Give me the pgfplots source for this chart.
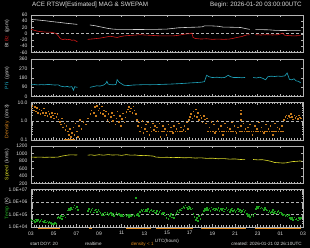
\documentclass[border=0pt]{standalone}
\usepackage{pgfplots}
\pgfplotsset{compat=1.18}
\usepackage{fontspec}
\setmainfont{Liberation Sans}
\definecolor{framegray}{HTML}{B4B4B4}
\definecolor{labelgray}{HTML}{DCDCDC}
\definecolor{btcol}{HTML}{D0D0D0}
\definecolor{bzcol}{HTML}{D01818}
\definecolor{phicol}{HTML}{1FA6BE}
\definecolor{dencol}{HTML}{E08A1E}
\definecolor{denpt}{HTML}{C87A1A}
\definecolor{spdcol}{HTML}{DCDC28}
\definecolor{tmpcol}{HTML}{22B422}
\definecolor{tmppt}{HTML}{1EA01E}
\definecolor{dashcol}{HTML}{B4B4B4}
\newcommand\tickfont{\fontsize{5}{6}\selectfont}
\newcommand\botfont{\fontsize{4.6}{5.5}\selectfont}
\pgfplotsset{
  panel/.style={
    scale only axis, width=272pt, height=37.5pt, anchor=south west,
    xmin=0, xmax=24, xtick={0,2,...,24}, minor x tick num=7, xticklabels={},
    axis line style={draw=framegray, line width=0.6pt},
    tick style={draw=framegray, line width=0.4pt},
    tick align=inside, major tick length=2.5pt, minor tick length=1.5pt,
    yticklabel style={font=\tickfont, text=labelgray},
    xticklabel style={font=\tickfont, text=labelgray, yshift=-1pt},
    ylabel style={at={(axis description cs:-0.088,0.5)}, anchor=center, font=\tickfont, text=labelgray},
    unbounded coords=jump,
  },
  dashln/.style={dashcol, dash pattern=on 3pt off 2pt, line width=0.5pt},
}
\begin{document}
\begin{tikzpicture}
\fill[black] (0,0) rectangle (310pt,248pt);
\useasboundingbox (0,0) rectangle (310pt,248pt);

% ---------- Panel 1: Bt / Bz ----------
\begin{axis}[panel, at={(31pt,195.5pt)}, ymin=-60, ymax=60,
  ytick={-60,-40,-20,0,20,40,60}, yticklabels={-60,-40,-20,0,20,40,60},
  ylabel={\textcolor{btcol}{Bt}\ \textcolor{bzcol}{Bz}\ \ (gsm)}]
\addplot[dashln] coordinates {(0,0) (24,0)};
\addplot[btcol, line width=0.6pt] coordinates {
(0,46) (0.3,45) (0.6,44) (1,42.5) (1.4,41) (1.8,39) (2.2,37.5) (2.6,36) (3,34) (3.4,32.5) (3.8,31) (4.1,30)
(4.6,nan)
(5.2,28) (5.6,26) (6,23) (6.4,20) (6.8,17) (7.2,15) (7.6,14) (8.5,14) (9.5,13.5) (10.5,14) (11,14) (11.5,14.5) (12,15) (12.5,17) (13,19) (13.6,20) (14.5,21) (15.1,22) (15.3,25) (16,25) (16.5,24) (17,21) (17.5,21) (18.5,20) (19,16) (19.3,14)
(19.5,nan)
(19.8,13) (20.5,13) (21,12.5) (21.5,11) (22,10.5) (23,10) (23.6,10) (23.8,10)};
\addplot[bzcol, line width=0.6pt] coordinates {
(0,14) (0.3,11) (0.6,8) (0.8,7) (1.1,6) (1.4,5) (1.7,5) (2,3) (2.2,1) (2.4,-6) (2.6,-16) (2.8,-19) (3.0,-17) (3.2,-19) (3.4,-18) (3.6,-21) (3.8,-20) (4.0,-24) (4.1,-26)
(4.6,nan)
(5.0,-18) (5.3,-17) (5.6,-16) (6.1,-14) (6.4,-12) (6.7,-10) (7,-8) (7.3,-10) (7.6,-12) (7.9,-9) (8.2,-7) (8.5,-6) (8.9,-5) (9.3,-4) (9.6,-3) (10,-4) (10.5,-5) (11,-6) (11.5,-7) (12,-7) (12.5,-7) (13,-5) (13.6,-1) (14,0) (14.2,2) (14.3,-12) (14.5,-15) (15,-17) (15.5,-16) (16,-18) (16.5,-17) (17,-18) (17.5,-17) (17.8,-15) (18.3,-11) (18.6,-9) (19,-4) (19.3,-3)
(19.5,nan)
(19.8,-3) (20.3,-4) (20.8,-3) (21.3,-4) (21.8,-3) (22.2,2) (22.4,-5) (22.8,-6) (23.2,-7) (23.6,-6) (23.8,-6)};
\end{axis}

% ---------- Panel 2: Phi ----------
\begin{axis}[panel, at={(31pt,151.5pt)}, ymin=0, ymax=360,
  ytick={0,90,180,270,360}, yticklabels={0,90,180,270,360},
  ylabel={\textcolor{phicol}{Phi}\ \ (gsm)}]
\addplot[phicol, line width=0.6pt] coordinates {
(0,112) (0.3,115) (0.6,111) (0.9,114) (1.2,112) (1.5,116) (1.8,113) (2.1,110) (2.4,112) (2.6,100) (2.8,96) (3.0,92) (3.2,97) (3.4,90) (3.6,95) (3.75,60) (3.85,94) (4.0,90) (4.1,88)
(4.6,nan)
(5.2,88) (5.5,95) (5.8,103) (6.1,100) (6.4,110) (6.6,125) (6.7,146) (6.8,120) (7.0,114) (7.3,112) (7.5,116) (7.6,162) (7.75,140) (7.9,128) (8.2,108) (8.6,105) (9,110) (9.5,112) (10,114) (10.5,113) (11,114) (11.5,116) (12,118) (12.5,120) (13,123) (13.5,126) (14,130) (14.5,133) (15,137) (15.3,142) (15.5,204) (15.7,190) (16,182) (16.4,185) (16.8,180) (17.1,183) (17.4,204) (17.6,190) (17.9,182) (18.3,183) (18.6,180) (18.9,183)
(19.2,nan)
(19.6,182) (19.9,178) (20.2,185) (20.5,172) (20.7,160) (20.9,190) (21.2,195) (21.5,192) (21.8,196) (22.1,193) (22.4,198) (22.6,226) (22.8,165) (23.0,160) (23.2,170) (23.4,150) (23.6,146) (23.8,130)};
\end{axis}

% ---------- Panel 3: Density ----------
\begin{axis}[panel, at={(31pt,108pt)}, ymode=log, ymin=0.1, ymax=10,
  ytick={0.1,1,10}, yticklabels={0.1,1.0,10.0},
  ylabel={\textcolor{dencol}{Density}\ \ (/cm3)}]
\addplot[dashln] coordinates {(0,1) (24,1)};
\addplot[dencol, line width=1.2pt] coordinates {(2.9,0.107) (3.9,0.107)};
\addplot[only marks, mark=square*, mark size=0.3pt, color=denpt, mark options={line width=0.05pt}] coordinates {
(0,5) (0.1,7) (0.2,4) (0.3,6) (0.4,3.5) (0.5,5.5) (0.6,3) (0.7,4.5) (0.8,2.5) (0.9,4) (1.0,3) (1.1,5) (1.2,2.2)
(1.3,3) (1.4,2) (1.5,3.5) (1.6,2.5) (1.7,1.8) (1.8,3) (1.9,2.2) (2.0,1.5) (2.1,2.8) (2.2,1.8) (2.3,2.5) (2.4,1.3)
(2.5,1.0) (2.6,0.7) (2.7,1.5) (2.8,0.5) (2.9,0.8) (3.0,0.35) (3.1,0.6) (3.2,0.3)
(3.3,0.2) (3.4,0.4) (3.5,0.15) (3.6,0.25) (3.7,0.5) (3.8,0.2) (3.9,0.8) (4.0,0.3) (4.1,0.15)
(4.2,0.6) (4.3,1.2) (4.4,0.4) (4.6,1.0) (4.8,0.7)
(5.0,1.5) (5.2,2.5) (5.3,4) (5.5,3) (5.6,6) (5.7,2) (5.8,7) (5.9,4) (6.0,5) (6.1,3) (6.2,6.5) (6.3,2.5) (6.4,4)
(6.5,2) (6.6,3.5) (6.7,1.2) (6.8,2.5) (6.9,0.9) (7.0,1.8) (7.1,3) (7.2,1.1) (7.3,2.2) (7.4,0.7) (7.5,1.5) (7.6,3.5) (7.7,1.0) (7.8,2) (7.9,0.6) (8.0,1.4) (8.1,2.8) (8.2,0.9) (8.3,1.7) (8.4,3.2)
(8.5,4.5) (8.6,6) (8.7,3.5) (8.8,5) (8.9,3) (9.0,6.5) (9.1,4) (9.2,2.5)
(9.3,1.2) (9.4,0.6) (9.5,0.9) (9.6,0.3) (9.7,0.5) (9.8,1.1) (9.9,0.25) (10.0,0.4) (10.1,0.7) (10.2,0.3) (10.3,0.9) (10.4,0.2) (10.5,0.5) (10.6,0.3) (10.7,0.8) (10.8,0.35) (10.9,0.6)
(11.0,0.3) (11.1,0.5) (11.2,0.3) (11.3,0.8) (11.4,0.15) (11.5,0.3) (11.6,0.6) (11.7,0.3) (11.8,0.4) (11.9,0.2) (12.0,0.3) (12.1,0.7) (12.2,0.3) (12.3,0.5) (12.4,0.3) (12.5,0.25) (12.6,0.6) (12.7,0.3) (12.8,0.4) (12.9,0.3) (13.0,0.8) (13.1,0.3) (13.2,0.5) (13.3,0.3) (13.4,0.35) (13.5,0.6) (13.6,0.3) (13.7,0.9) (13.8,0.4) (13.9,1.2)
(14.0,1.8) (14.1,2.5) (14.2,1.5) (14.3,3.5) (14.4,2) (14.5,4.5) (14.6,1.8) (14.7,3) (14.8,1.2) (14.9,2.2) (15.0,1.6) (15.1,0.9) (15.2,2) (15.3,1.3) (15.4,0.8) (15.5,1.5)
(15.6,0.3) (15.7,0.5) (15.8,0.3) (15.9,1.0) (16.0,0.3) (16.1,0.7) (16.2,0.25) (16.3,0.3) (16.4,1.1) (16.5,0.4) (16.6,0.3) (16.7,0.6) (16.8,0.3) (16.9,0.2) (17.0,0.3) (17.1,0.8) (17.2,0.3) (17.3,0.5) (17.4,0.3) (17.5,0.4) (17.6,0.3) (17.7,0.9) (17.8,0.3) (17.9,0.6) (18.0,0.3) (18.1,0.25) (18.2,0.5)
(18.4,0.3) (18.5,4) (18.5,2.5) (18.5,1.2) (18.5,0.6) (18.6,0.3) (18.7,0.8) (18.8,0.3) (18.9,0.4)
(19.0,0.3) (19.1,0.5) (19.2,0.3) (19.3,0.7) (19.4,0.3) (19.5,0.2) (19.6,0.3) (19.7,0.6) (19.8,0.3) (19.9,0.4) (20.0,0.3) (20.1,0.9) (20.2,0.3) (20.3,0.5) (20.4,0.3) (20.5,0.25) (20.6,0.3) (20.7,0.7) (20.8,0.3) (20.9,0.4) (21.0,0.3) (21.1,0.6) (21.2,0.3) (21.3,0.2) (21.4,0.3) (21.5,0.8) (21.6,0.3) (21.7,0.5) (21.8,0.3) (21.9,0.4) (22.0,0.3) (22.1,0.6) (22.2,0.3)
(22.3,1.2) (22.4,1.8) (22.5,2.2) (22.6,1.5) (22.7,2) (22.8,1.7) (22.9,2.5) (23.0,1.8) (23.1,1.3) (23.2,2.1) (23.3,1.6) (23.4,1.9) (23.5,1.4) (23.6,2.2) (23.7,1.7) (23.8,1.5)};
\end{axis}

% ---------- Panel 4: Speed ----------
\begin{axis}[panel, at={(31pt,64.5pt)}, ymin=200, ymax=1200,
  ytick={200,400,600,800,1000,1200}, yticklabels={200,400,600,800,1000,1200},
  ylabel={\textcolor{spdcol}{Speed}\ \ (km/s)}]
\addplot[spdcol, line width=0.6pt] coordinates {
(0,905) (0.4,900) (0.8,905) (1.2,898) (1.6,902) (2.0,900) (2.4,905) (2.7,930) (3.0,945) (3.3,960) (3.6,965) (3.9,960) (4.1,962)
(4.6,nan)
(5.0,955) (5.3,965) (5.6,950) (6,968) (6.4,955) (6.8,970) (7.2,958) (7.6,965) (8,950) (8.4,970) (8.8,955) (9.2,960) (9.6,945) (10,950) (10.4,940) (10.8,930) (11,905) (11.5,895) (12,900) (12.5,890) (13,895) (13.5,885) (14,890) (14.5,878) (15,885) (15.5,870) (16,875) (16.5,860) (17,865) (17.5,850) (18,855) (18.5,840) (18.9,845)
(19.2,nan)
(19.6,840) (20,830) (20.4,835) (20.8,815) (21.2,790) (21.5,760) (21.8,755) (22.2,745) (22.5,750) (22.8,770) (23.1,785) (23.4,790) (23.7,800) (23.9,795)};
\end{axis}

% ---------- Panel 5: Temperature ----------
\begin{axis}[panel, at={(31pt,21pt)}, ymode=log, ymin=1e4, ymax=1e7,
  ytick={1e4,1e5,1e6,1e7}, yticklabels={1.0E+04,1.0E+05,1.0E+06,1.0E+07},
  xticklabels={03,05,07,09,11,13,15,17,19,21,23,01,03},
  ylabel={\textcolor{tmpcol}{Temp}\ \ (K)}]
\addplot[dashln] coordinates {(0,1e5) (24,1e5)};
\addplot[dashln] coordinates {(0,1e6) (24,1e6)};
\addplot[only marks, mark=square*, mark size=0.3pt, color=tmppt, mark options={line width=0.05pt}] coordinates {
(0,4.0e4) (0.1,3.0e4) (0.2,3.5e4) (0.3,2.8e4) (0.4,4.5e4) (0.5,3.2e4) (0.6,3.8e4) (0.7,2.6e4) (0.8,3.3e4) (0.9,4.2e4) (1.0,3.0e4) (1.1,2.7e4) (1.2,3.6e4) (1.3,2.5e4) (1.4,3.1e4) (1.5,2.4e4) (1.6,2.8e4) (1.7,2.2e4) (1.8,1.9e4) (1.9,2.1e4) (2.0,1.8e4) (2.1,2.3e4) (2.2,2.0e4)
(2.3,5.5e4) (2.4,7.0e4) (2.5,6.0e4) (2.6,8.5e4) (2.7,5.0e4) (2.8,7.5e4) (2.9,9.0e4) (3.0,6.5e4) (3.1,1.1e5)
(3.2,2.2e5) (3.3,3.0e5) (3.4,2.5e5) (3.5,3.5e5) (3.6,2.8e5) (3.7,4.0e5) (3.8,5.6e5) (3.9,3.2e5) (4.0,4.5e5) (4.1,2.6e5)
(5.0,2.0e5) (5.1,3.0e5) (5.2,1.8e5) (5.3,2.5e5) (5.4,3.2e5) (5.5,1.6e5) (5.6,2.2e5) (5.7,2.8e5) (5.8,1.7e5) (5.9,2.4e5) (6.0,1.9e5)
(6.1,1.5e5) (6.2,1.0e5) (6.3,1.3e5) (6.4,9e4) (6.5,1.6e5) (6.6,1.1e5) (6.7,1.4e5) (6.8,9.5e4) (6.9,1.2e5) (7.0,1.5e5) (7.1,1.0e5) (7.2,1.3e5) (7.3,8.5e4) (7.4,1.1e5) (7.5,1.4e5) (7.6,9e4) (7.7,1.2e5) (7.8,1.0e5)
(7.9,8.5e4) (8.0,1.0e5) (8.1,7.5e4) (8.2,9.0e4) (8.3,1.1e5) (8.4,8.0e4) (8.5,9.5e4) (8.6,7.0e4) (8.7,1.0e5) (8.8,8.5e4) (8.9,9.0e4) (9.0,1.1e5) (9.1,8.0e4) (9.2,2.3e6) (9.3,9.5e4) (9.4,1.2e5) (9.5,8.5e4)
(9.6,1.8e5) (9.7,2.5e5) (9.8,2.0e5) (9.9,2.8e5) (10.0,1.9e5) (10.1,2.4e5) (10.2,2.1e5) (10.3,3.0e5) (10.4,1.7e5) (10.5,2.3e5) (10.6,2.6e5) (10.7,1.9e5) (10.8,2.2e5) (10.9,1.6e5)
(11.0,1.5e5) (11.1,2.0e5) (11.2,1.3e5) (11.3,1.7e5) (11.4,2.2e5) (11.5,1.2e5) (11.6,1.6e5) (11.7,1.4e5)
(11.8,9e4) (11.9,6e4) (12.0,1.1e5) (12.1,5e4) (12.2,8e4) (12.3,1.2e5) (12.4,6.5e4) (12.5,9e4) (12.6,5.5e4) (12.7,1.0e5)
(12.8,1.5e5) (12.9,2.0e5) (13.0,1.6e5) (13.1,2.6e5) (13.2,2.2e5)
(13.3,3.2e5) (13.4,4.5e5) (13.5,3.5e5) (13.6,5.6e5) (13.7,4.0e5) (13.8,3.0e5) (13.9,4.8e5) (14.0,3.6e5) (14.1,2.8e5) (14.2,3.4e5)
(14.3,1.2e5) (14.4,7e4) (14.5,4e4) (14.6,6e4) (14.7,3.2e4) (14.8,8e4) (14.9,5e4) (15.0,9e4) (15.1,1.3e5)
(15.2,2.0e5) (15.3,3.0e5) (15.4,2.4e5) (15.5,3.8e5) (15.6,2.6e5) (15.7,3.2e5) (15.8,2.0e5) (15.9,4.0e5) (16.0,2.8e5) (16.1,3.4e5) (16.2,2.2e5) (16.3,3.0e5) (16.4,2.5e5) (16.5,3.6e5) (16.6,2.1e5) (16.7,2.9e5) (16.8,2.4e5) (16.9,3.3e5) (17.0,1.9e5) (17.1,2.7e5) (17.2,3.5e5) (17.3,2.3e5) (17.4,2.8e5) (17.5,1.8e5) (17.6,2.5e5) (17.7,3.2e5) (17.8,2.0e5) (17.9,2.6e5) (18.0,1.7e5) (18.1,2.3e5) (18.2,3.0e5) (18.3,1.9e5) (18.4,2.4e5) (18.5,1.6e5) (18.6,2.1e5) (18.7,2.7e5) (18.8,1.8e5) (18.9,2.2e5)
(19.0,1.2e5) (19.1,8e4) (19.2,1.0e5) (19.3,7e4) (19.4,9e4) (19.5,1.1e5) (19.6,8.5e4) (19.7,1.3e5)
(19.8,3.0e5) (19.9,4.2e5) (20.0,3.6e5) (20.1,4.8e5) (20.2,3.2e5) (20.3,4.0e5) (20.4,3.4e5) (20.5,2.6e5) (20.6,3.8e5) (20.7,2.8e5)
(20.8,2.2e5) (20.9,1.6e5) (21.0,2.0e5) (21.1,1.4e5) (21.2,1.8e5) (21.3,2.4e5) (21.4,1.5e5) (21.5,1.9e5) (21.6,1.3e5) (21.7,1.7e5) (21.8,2.1e5) (21.9,1.4e5) (22.0,1.6e5) (22.1,1.2e5)
(22.2,9e4) (22.3,1.1e5) (22.4,8e4) (22.5,1.0e5) (22.6,7.5e4) (22.7,9.5e4)
(22.8,6e4) (22.9,4.5e4) (23.0,5.5e4) (23.1,3.8e4) (23.2,6.5e4) (23.3,4.2e4) (23.4,5.0e4) (23.5,3.5e4) (23.6,6.0e4) (23.7,4.8e4) (23.8,5.5e4)};
\end{axis}

% ---------- flag bar below the temperature panel ----------
\begin{axis}[scale only axis, width=272pt, height=3pt, at={(31pt,17.5pt)}, anchor=south west,
  xmin=0, xmax=24, ymin=0, ymax=1, hide axis, unbounded coords=jump]
\addplot[dencol, line width=1pt] coordinates {
(0.6,0.5) (2.6,0.5) (2.7,nan) (5.1,0.5) (5.4,0.5) (5.5,nan) (8.4,0.5) (10.6,0.5) (10.8,nan)
(11,0.5) (14.3,0.5) (14.5,nan) (15,0.5) (19,0.5) (19.3,nan) (19.8,0.5) (23.8,0.5)};
\end{axis}

% ---------- texts ----------
\node[anchor=west, font=\fontsize{6.3}{7}\selectfont, text=labelgray, inner sep=0] at (32pt,243.5pt) {ACE RTSW[Estimated] MAG \& SWEPAM};
\node[anchor=east, font=\fontsize{6.3}{7}\selectfont, text=labelgray, inner sep=0] at (302pt,243.5pt) {Begin: 2026-01-20 03:00:00UTC};
\node[anchor=center, font=\botfont, text=labelgray, inner sep=0] at (167pt,7pt) {UTC(hours)};
\node[anchor=west, font=\botfont, text=labelgray, inner sep=0] at (30pt,4pt) {start DOY: 20};
\node[anchor=west, font=\botfont, text=labelgray, inner sep=0] at (85pt,4pt) {realtime};
\node[anchor=west, font=\botfont, text=dencol, inner sep=0] at (131pt,4pt) {density < 1};
\node[anchor=east, font=\botfont, text=labelgray, inner sep=0] at (302pt,4pt) {created: 2026-01-21 02:26:10UTC};
\end{tikzpicture}
\end{document}
